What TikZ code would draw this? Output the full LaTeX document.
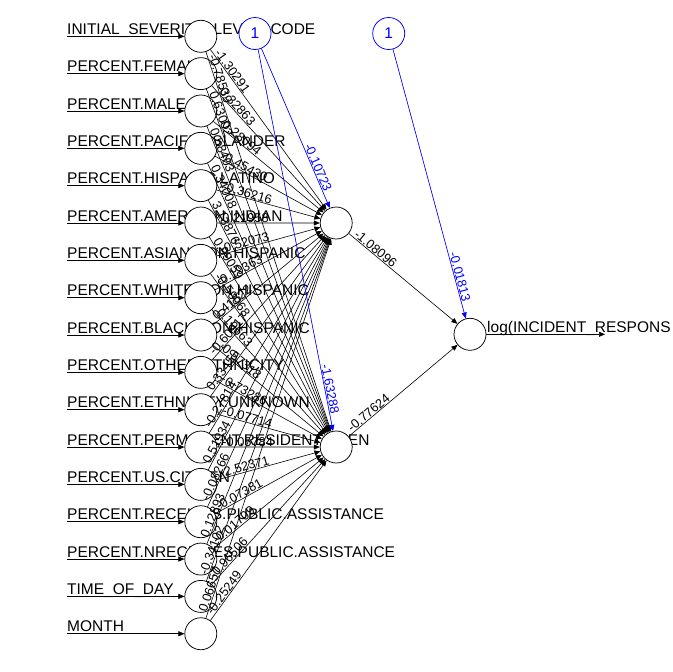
\documentclass[tikz,border=0pt]{standalone}
\usepackage{fontspec}
\setmainfont{Liberation Sans}
\usetikzlibrary{arrows.meta,calc}
\newcommand\wlab[3]{\path ($(#1.center)!20.8pt!(#2.center)$) -- (#2.center) node[wl,pos=0,sloped,anchor=south west]{#3};}
\newcommand\blab[3]{\path (#1.center) -- ($(#2.center)!32pt!(#1.center)$) node[wl,text=blue,pos=1,sloped,anchor=south east]{#3};}
\begin{document}
\begin{tikzpicture}[x=1pt,y=-1pt,
  neuron/.style={circle,draw,fill=white,minimum size=32pt,inner sep=0pt,line width=0.75pt},
  biasn/.style={neuron,draw=blue,text=blue,font=\fontsize{15.5}{16}\selectfont},
  arr/.style={-{Triangle[length=6pt,width=5pt]},line width=0.6pt},
  barr/.style={arr,draw=blue,fill=blue},
  nm/.style={font=\fontsize{15.5}{16}\selectfont,inner sep=0pt,anchor=base west},
  wl/.style={font=\fontsize{12.8}{13}\selectfont,inner sep=0.6pt}]
\useasboundingbox[fill=white] (0,0) rectangle (672,672);
% input names
\foreach \i/\t in {1/INITIAL\_SEVERITY\_LEVEL\_CODE,2/PERCENT.FEMALE,3/PERCENT.MALE,
  4/PERCENT.PACIFIC.ISLANDER,5/PERCENT.HISPANIC.LATINO,6/PERCENT.AMERICAN.INDIAN,
  7/PERCENT.ASIAN.NON.HISPANIC,8/PERCENT.WHITE.NON.HISPANIC,9/PERCENT.BLACK.NON.HISPANIC,
  10/PERCENT.OTHER.ETHNICITY,11/PERCENT.ETHNICITY.UNKNOWN,12/PERCENT.PERMANENT.RESIDENT.ALIEN,
  13/PERCENT.US.CITIZEN,14/PERCENT.RECEIVES.PUBLIC.ASSISTANCE,15/PERCENT.NRECEIVES.PUBLIC.ASSISTANCE,
  16/TIME\_OF\_DAY,17/MONTH}{
  \node[nm] (t\i) at (67,{36.3+(\i-1)*37.34-1.8}) {\t};
  \coordinate (s\i) at (67,{36.3+(\i-1)*37.34});
}
\node[nm] (tout) at (487,332.5) {log(INCIDENT\_RESPONS};
% neurons
\foreach \i in {1,...,17}{
  \node[neuron] (in\i) at (200.8,{36.3+(\i-1)*37.34}) {};
}
\node[neuron] (h1) at (336.2,223) {};
\node[neuron] (h2) at (336.2,447) {};
\node[neuron] (out) at (470,334.3) {};
\node[biasn] (b1) at (255,33.5) {1};
\node[biasn] (b2) at (388.7,33.5) {1};
\coordinate (oend) at (605,334.3);
% connections
\foreach \i in {1,...,17}{
  \draw[arr] (s\i) -- (in\i);
  \draw[arr] (in\i) -- (h1);
  \draw[arr] (in\i) -- (h2);
}
\draw[arr] (h1) -- (out);
\draw[arr] (h2) -- (out);
\draw[arr] (out) -- (oend);
\draw[barr] (b1) -- (h1);
\draw[barr] (b1) -- (h2);
\draw[barr] (b2) -- (out);
% weight labels
\foreach \i/\a/\b in {1/-1.30291/-0.78539,2/-0.32863/0.63002,3/-0.28094/0.58403,
  4/-0.45430/0.34008,5/-0.36216/3.13876,6/0.21958/0.99059,7/-0.52073/-0.59068,
  8/-0.19363/0.19663,9/0.41822/-0.57318,10/-0.60917/-0.73286,11/0.33450/-0.07714,
  12/-0.27814/-0.05784,13/0.51934/-2.52371,14/-0.08266/-0.07381,15/0.12893/-0.01709,
  16/-0.34102/-0.96506,17/0.06657/-0.25249}{
  \wlab{in\i}{h1}{\a}
  \wlab{in\i}{h2}{\b}
}
\wlab{h1}{out}{-1.08096}
\wlab{h2}{out}{-0.77624}
\blab{b1}{h1}{-0.10723}
\blab{b1}{h2}{-1.63288}
\blab{b2}{out}{-0.01813}
\end{tikzpicture}
\end{document}
